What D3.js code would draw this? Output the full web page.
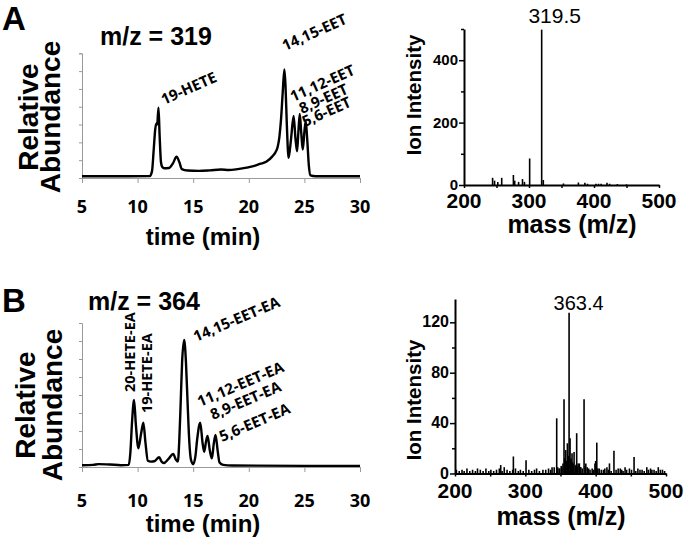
<!DOCTYPE html>
<html><head><meta charset="utf-8">
<script src="https://cdn.jsdelivr.net/npm/d3@7"></script>
<style>body{margin:0;background:#fff}svg{display:block}</style>
</head><body>
<svg id="c" width="690" height="547"></svg>
<script>
// ---------- DATA ----------
const timeTicks = [5, 10, 15, 20, 25, 30];

// Chromatogram A (m/z = 319)
const chromA_time  = [5, 8, 11.1, 11.3, 11.45, 11.58, 11.67, 11.76, 11.88, 11.98, 12.1, 12.22, 12.4, 12.8, 13.2, 13.5, 13.75, 13.98, 14.5, 15.5, 16.5, 17.5, 18.2, 19.0, 19.8, 20.5, 21.0, 21.6, 22.1, 22.4, 22.6, 22.75, 22.9, 23.05, 23.2, 23.3, 23.42, 23.58, 23.8, 24.03, 24.2, 24.34, 24.45, 24.58, 24.72, 24.85, 25.0, 25.12, 25.25, 25.4, 25.55, 26, 30];
const chromA_abund = [0.1, 0.1, 0.11, 0.4, 1.6, 2.7, 3.05, 3.0, 3.95, 2.4, 0.9, 0.62, 0.55, 0.56, 0.85, 1.2, 0.9, 0.5, 0.42, 0.4, 0.43, 0.48, 0.45, 0.5, 0.58, 0.68, 0.79, 0.92, 1.2, 1.45, 1.76, 2.3, 3.3, 4.8, 6.1, 5.2, 3.0, 1.13, 2.2, 3.48, 2.2, 1.5, 2.5, 3.6, 2.5, 1.6, 2.6, 3.2, 2.2, 0.7, 0.15, 0.1, 0.1];
const peakLabelsA = ["19-HETE", "14,15-EET", "11,12-EET", "8,9-EET", "5,6-EET"];

// Chromatogram B (m/z = 364)
const chromB_time  = [5, 6, 6.5, 7.5, 8.5, 9.2, 9.35, 9.5, 9.68, 9.85, 10.07, 10.3, 10.52, 10.7, 10.92, 11.2, 11.5, 11.94, 12.15, 12.35, 12.78, 13.2, 13.45, 13.62, 13.75, 13.87, 14.0, 14.19, 14.35, 14.5, 14.65, 14.8, 15.0, 15.2, 15.35, 15.63, 15.85, 15.99, 16.15, 16.29, 16.5, 16.68, 16.85, 17.01, 17.2, 17.37, 17.7, 18.5, 30];
const chromB_abund = [0.1, 0.12, 0.16, 0.14, 0.1, 0.12, 0.8, 2.5, 3.72, 2.3, 1.04, 1.8, 2.46, 1.4, 0.35, 0.3, 0.32, 0.54, 0.3, 0.22, 0.45, 0.72, 0.4, 0.3, 1.5, 3.5, 5.8, 7.06, 5.8, 3.5, 1.4, 0.4, 0.15, 0.6, 1.5, 2.46, 1.3, 0.85, 1.4, 1.72, 0.9, 0.48, 1.3, 1.78, 0.9, 0.25, 0.12, 0.08, 0.06];
const peakLabelsB = ["20-HETE-EA", "19-HETE-EA", "14,15-EET-EA", "11,12-EET-EA", "8,9-EET-EA", "5,6-EET-EA"];

// Mass spectrum A
const massTicks = [200, 300, 400, 500];
const msA_yTicks = [0, 200, 400];
const msA_mz  = [244, 247, 252, 258, 276, 278, 284, 290, 293, 301, 319.5, 322, 353, 376, 386, 390, 403, 407, 411, 420, 424, 436, 450];
const msA_int = [23, 14, 10, 23, 32, 14, 10, 19, 10, 85, 498, 16, 5, 8, 7, 4, 4, 4, 4, 7, 4, 3, 2];
const msA_peakLabel = "319.5";

// Mass spectrum B
const msB_yTicks = [0, 40, 80, 120];
const msB_mz  = [265, 283, 301, 325, 338, 341, 344.6, 349, 352, 353.5, 355, 356, 357.4, 358.5, 359.8, 361, 362.2, 363.6, 365, 366.4, 368, 369.3, 371, 373, 375, 376.8, 379, 381, 383.5, 386, 388, 392, 395, 399, 400, 401.6, 405, 411, 416, 419.6, 426, 432, 437, 441.8, 448, 454.6, 460, 466, 472.7, 480, 489, 495];
const msB_int = [6.7, 13.5, 10.5, 3, 5, 5, 43.8, 4, 5, 8, 59, 12, 18.6, 10, 24, 14, 127.6, 28, 12, 16, 8, 17, 6, 32, 8, 8, 5, 4, 59, 8, 5, 3, 4, 8, 10, 24.5, 4, 3, 5, 8, 18, 4, 3, 5, 4, 13, 4, 3, 5, 3, 5, 3];
const msB_noise_mz  = [202, 206, 210, 213, 217, 221, 225, 229, 232, 236, 240, 244, 248, 251, 255, 259, 263, 267, 270, 274, 278, 282, 286, 290, 293, 297, 305, 309, 313, 316, 320, 329, 333, 336, 346, 348, 351, 364.5, 367, 372, 374, 378, 385, 390, 397, 403, 408, 413, 418, 422, 429, 435, 439, 444, 451, 457, 463, 469, 475, 478, 483, 486, 492, 498];
const msB_noise_int = [3, 2, 3, 2, 4, 2, 3, 2, 4, 3, 2, 4, 2, 3, 2, 3, 4, 2, 5, 3, 2, 3, 4, 2, 3, 2, 3, 2, 3, 4, 2, 3, 4, 3, 5, 4, 6, 10, 9, 7, 6, 5, 6, 4, 3, 4, 3, 4, 3, 2, 3, 4, 2, 3, 3, 2, 3, 2, 3, 4, 3, 2, 3, 2];
const msB_peakLabel = "363.4";

// ---------- DRAW ----------
const svg = d3.select("#c");
svg.append("rect").attr("width", 690).attr("height", 547).attr("fill", "#fff");
const ARIAL = "'Liberation Sans', Arial, sans-serif";
const CAL = "'Open Sans', sans-serif";

function chromatogram(o) {
  const g = svg.append("g");
  const x = d3.scaleLinear().domain([5, 30]).range([82, 360]);
  const y = d3.scaleLinear().domain([0, o.ymax]).range([o.base, o.top]);
  const ya = d3.axisLeft(y).ticks(o.ymax).tickSize(3).tickFormat("");
  const yg = g.append("g").attr("transform", "translate(82,0)").call(ya);
  yg.selectAll("path,line").attr("stroke", "#9a9a9a").attr("stroke-width", 1);
  const xa = d3.axisBottom(x).tickValues(timeTicks).tickSize(5).tickSizeOuter(0).tickFormat("");
  const xg = g.append("g").attr("transform", `translate(0,${o.base})`).call(xa);
  xg.selectAll("path,line").attr("stroke", "#9a9a9a").attr("stroke-width", 1);
  g.selectAll(".xl").data(timeTicks).enter().append("text")
    .attr("x", d => x(d)).attr("y", o.tickY).attr("text-anchor", "middle")
    .attr("font-family", CAL).attr("font-weight", 700).attr("font-size", 18).text(d => d);
  const line = d3.line().x(d => x(d[0])).y(d => y(d[1])).curve(d3.curveMonotoneX);
  g.append("path").datum(o.t.map((t, i) => [t, o.v[i]]))
    .attr("d", line).attr("fill", "none").attr("stroke", "#000").attr("stroke-width", 2.4)
    .attr("stroke-linejoin", "round");
  g.append("text").attr("x", 203).attr("y", o.titleY).attr("text-anchor", "middle")
    .attr("font-family", ARIAL).attr("font-weight", "bold").attr("font-size", 24).text("time (min)");
  const yc = o.labelCY;
  g.append("text").attr("transform", `translate(${o.relX},${yc}) rotate(-90)`).attr("text-anchor", "middle")
    .attr("font-family", ARIAL).attr("font-weight", "bold").attr("font-size", 28).text("Relative");
  g.append("text").attr("transform", `translate(${o.abX},${yc}) rotate(-90)`).attr("text-anchor", "middle")
    .attr("font-family", ARIAL).attr("font-weight", "bold").attr("font-size", 28).text("Abundance");
  g.append("text").attr("x", 2).attr("y", o.letterY).attr("font-family", ARIAL).attr("font-weight", "bold")
    .attr("font-size", 33).text(o.letter);
  g.append("text").attr("x", o.mzX).attr("y", o.mzY).attr("font-family", ARIAL).attr("font-weight", "bold")
    .attr("font-size", 25).text(o.mzText);
  o.labels.forEach((txt, i) => {
    const p = o.labelPos[i];
    g.append("text").attr("transform", `translate(${p[0]},${p[1]}) rotate(${p[2]})`)
      .attr("font-family", CAL).attr("font-weight", 700).attr("font-size", p[2] === -90 ? 14.5 : 15).text(txt);
  });
}

chromatogram({
  t: chromA_time, v: chromA_abund, ymax: 7, base: 178, top: 53.3, tickY: 213, titleY: 245,
  labelCY: 117, relX: 38, abX: 60, letter: "A", letterY: 30, mzText: "m/z = 319", mzX: 100, mzY: 45,
  labels: peakLabelsA,
  labelPos: [[164, 105, -24], [285, 51, -24], [293, 102, -24], [302, 114, -24], [305, 127, -24]]
});
chromatogram({
  t: chromB_time, v: chromB_abund, ymax: 8, base: 467, top: 323, tickY: 507, titleY: 532,
  labelCY: 405, relX: 35, abX: 62, letter: "B", letterY: 312, mzText: "m/z = 364", mzX: 88, mzY: 310,
  labels: peakLabelsB,
  labelPos: [[135, 392, -90], [152, 413, -90], [196, 342, -23], [200, 407, -23], [213, 420, -23], [222, 442, -23]]
});

function spectrum(o) {
  const g = svg.append("g");
  const x = d3.scaleLinear().domain([200, 500]).range([o.x0, o.x1]);
  const y = d3.scaleLinear().domain([0, o.ymax]).range([o.base, o.top]);
  const all = o.mz.map((m, i) => [m, o.int[i]]);
  if (o.nmz) o.nmz.forEach((m, i) => all.push([m, o.nint[i]]));
  g.selectAll(".st").data(all).enter().append("line")
    .attr("x1", d => x(d[0])).attr("x2", d => x(d[0]))
    .attr("y1", y(0)).attr("y2", d => y(d[1]))
    .attr("stroke", "#000").attr("stroke-width", 1.6);
  const yMinor = d3.range(0, o.ymax + 0.001, o.minorStep).filter(v => !o.yTicks.includes(v));
  const ya = d3.axisLeft(y).tickValues(o.yTicks).tickSize(5).tickSizeOuter(0).tickFormat("");
  g.append("g").attr("transform", `translate(${o.x0},0)`).call(ya);
  g.append("g").attr("transform", `translate(${o.x0},0)`)
    .call(d3.axisLeft(y).tickValues(yMinor).tickSize(3).tickSizeOuter(0).tickFormat(""))
    .select("path").remove();
  g.selectAll("path.domain").attr("stroke-width", 2);
  g.selectAll("line").filter(function(){ return this.parentNode.classList.contains("tick"); })
    .attr("stroke-width", 1.5);
  g.selectAll(".yl").data(o.yTicks).enter().append("text")
    .attr("x", o.x0 - 6).attr("y", d => y(d) + 5).attr("text-anchor", "end")
    .attr("font-family", ARIAL).attr("font-weight", "bold").attr("font-size", o.yFont).text(d => d);
  const xg = g.append("g").attr("transform", `translate(0,${o.base})`)
    .call(d3.axisBottom(x).tickValues(d3.range(200, 501, 50)).tickSize(3).tickSizeOuter(0).tickFormat(""));
  xg.select("path").attr("stroke-width", 2);
  xg.selectAll("line").attr("stroke-width", 1.5);
  g.selectAll(".xl").data(massTicks).enter().append("text")
    .attr("x", d => x(d)).attr("y", o.xTickY).attr("text-anchor", "middle")
    .attr("font-family", ARIAL).attr("font-weight", "bold").attr("font-size", 21).text(d => d);
  g.append("text").attr("x", o.titleX).attr("y", o.titleY).attr("text-anchor", "middle")
    .attr("font-family", ARIAL).attr("font-weight", "bold").attr("font-size", 25).text("mass (m/z)");
  g.append("text").attr("transform", `translate(${o.ionX},${o.ionY}) rotate(-90)`).attr("text-anchor", "middle")
    .attr("font-family", ARIAL).attr("font-weight", "bold").attr("font-size", 20.5).text("Ion Intensity");
  g.append("text").attr("x", x(o.peakMz) + o.peakDx).attr("y", o.peakLabelY).attr("text-anchor", "middle")
    .attr("font-family", ARIAL).attr("font-size", o.peakFont).text(o.peakLabel);
}

spectrum({
  mz: msA_mz, int: msA_int, ymax: 500, x0: 464, x1: 659, base: 185, top: 29,
  yTicks: msA_yTicks, minorStep: 100, yFont: 15, xTickY: 208, titleX: 572, titleY: 233,
  ionX: 421, ionY: 95, peakMz: 319.5, peakDx: 13, peakLabel: msA_peakLabel, peakLabelY: 23, peakFont: 21
});
spectrum({
  mz: msB_mz, int: msB_int, nmz: msB_noise_mz, nint: msB_noise_int, ymax: 138.5, x0: 455, x1: 666, base: 473.5, top: 299,
  yTicks: msB_yTicks, minorStep: 20, yFont: 16, xTickY: 498, titleX: 561, titleY: 525,
  ionX: 421, ionY: 400, peakMz: 362.2, peakDx: 9.5, peakLabel: msB_peakLabel, peakLabelY: 310, peakFont: 20
});
</script>
</body></html>
